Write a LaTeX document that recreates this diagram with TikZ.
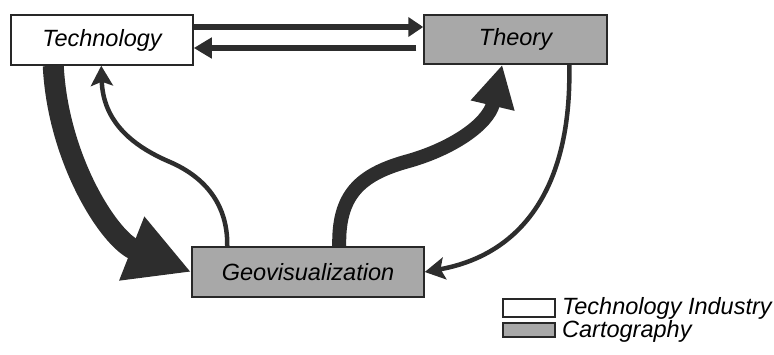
\documentclass[tikz,border=0pt]{standalone}
\usepackage{fontspec}
\setmainfont{Liberation Sans}
\usetikzlibrary{arrows.meta}
\definecolor{arrowc}{RGB}{45,45,45}
\definecolor{greyfill}{RGB}{168,168,168}
\definecolor{edgec}{RGB}{40,40,40}
\tikzset{
  lbl/.style={font=\fontsize{23.5}{28}\selectfont\itshape},
  box/.style={draw=edgec, line width=1.5pt, inner sep=0pt, lbl},
  whitebox/.style={box, fill=white},
  greybox/.style={box, fill=greyfill},
  thinarr/.style={draw=arrowc, line width=4.5pt, -{Stealth[length=20pt,width=22pt,inset=4pt]}},
  flatarr/.style={draw=arrowc, line width=5.5pt, -{Triangle[length=15pt,width=19pt]}},
  thickarr/.style={draw=arrowc, line width=#1},
}
\begin{document}
\begin{tikzpicture}[x=1pt,y=-1pt]
\useasboundingbox (0,0) rectangle (774,354);
% boxes
\node[whitebox, minimum width=182pt, minimum height=50pt] (tech) at (102,40) {Technology};
\node[greybox, minimum width=183pt, minimum height=49pt] (theory) at (515.5,39.5) {Theory};
\node[greybox, minimum width=232pt, minimum height=50pt] (geo) at (308,272) {Geovisualization};
% legend
\node[whitebox, minimum width=52pt, minimum height=18pt] (lw) at (529,308) {};
\node[greybox, minimum width=52pt, minimum height=14pt] (lg) at (529,330) {};
\node[lbl, anchor=west, inner sep=0pt] (lwt) at (562,308) {Technology Industry};
\node[lbl, anchor=west, inner sep=0pt] (lgt) at (562,331) {Cartography};
% straight arrows
\draw[flatarr] ([yshift=13pt]tech.east) -- ([yshift=12.5pt]theory.west);
\draw[draw=arrowc, line width=5.5pt, -{Triangle[length=18pt,width=20pt]}]
  ([xshift=-7pt,yshift=-8.5pt]theory.west) -- ([yshift=-8pt]tech.east);
% thick Technology -> Geovisualization
\draw[thickarr=21pt, -{Triangle[length=64pt,width=64pt]}]
  ([xshift=43pt]tech.south west) .. controls (58,160) and (110,240) .. (geo.west);
% thin Geovisualization -> Technology
\draw[thinarr]
  ([xshift=36pt]geo.north west) .. controls (228,200) and (200,175) .. (170,162)
  .. controls (130,145) and (103,120) .. ([xshift=91pt]tech.south west);
% thick Geovisualization -> Theory
\draw[thickarr=14pt, -{Triangle[length=42pt,width=42pt]}]
  ([xshift=148pt]geo.north west) .. controls (338,195) and (360,175) .. (405,162)
  .. controls (450,150) and (488,125) .. ([xshift=79pt]theory.south west);
% thin Theory -> Geovisualization
\draw[thinarr]
  ([xshift=146pt]theory.south west) .. controls (572,190) and (520,255) .. (geo.east);
\end{tikzpicture}
\end{document}
